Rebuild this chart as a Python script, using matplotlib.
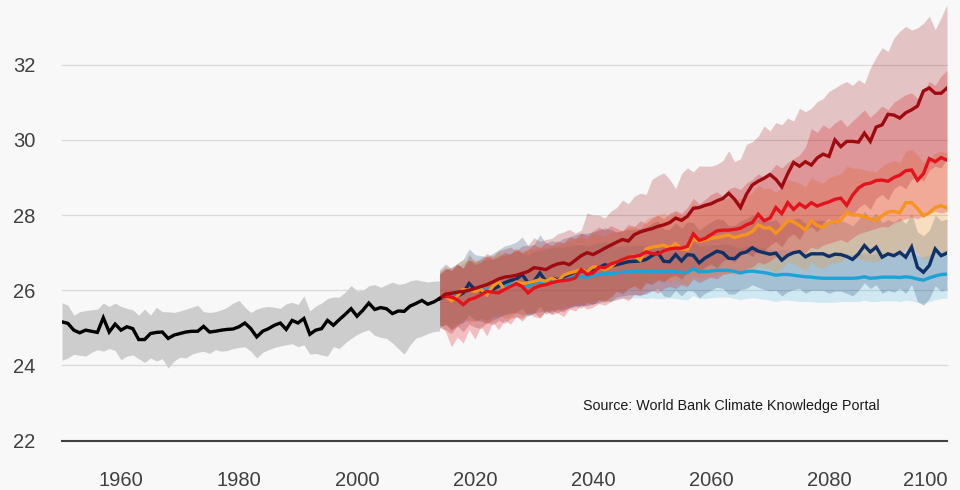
import matplotlib
matplotlib.use("Agg")
import matplotlib.pyplot as plt

# ---------------- data ----------------
hist_years = list(range(1950, 2015))
hist_median = [
    25.16, 25.12, 24.94, 24.87, 24.94, 24.91, 24.88, 25.27, 24.89, 25.10,
    24.94, 25.03, 24.98, 24.69, 24.69, 24.85, 24.88, 24.89, 24.72, 24.81,
    24.85, 24.89, 24.91, 24.91, 25.04, 24.89, 24.91, 24.94, 24.96, 24.97,
    25.03, 25.13, 24.98, 24.76, 24.91, 24.98, 25.07, 25.13, 24.96, 25.20,
    25.13, 25.25, 24.83, 24.94, 24.98, 25.20, 25.07, 25.22, 25.36, 25.51,
    25.31, 25.47, 25.66, 25.49, 25.54, 25.51, 25.38, 25.45, 25.44, 25.58,
    25.65, 25.73, 25.63, 25.69, 25.78]
hist_upper = [
    25.67, 25.60, 25.34, 25.43, 25.46, 25.48, 25.50, 25.66, 25.57, 25.66,
    25.57, 25.52, 25.48, 25.34, 25.50, 25.34, 25.55, 25.43, 25.43, 25.41,
    25.45, 25.50, 25.55, 25.60, 25.43, 25.41, 25.43, 25.48, 25.55, 25.66,
    25.73, 25.55, 25.41, 25.50, 25.55, 25.57, 25.55, 25.52, 25.64, 25.68,
    25.62, 25.85, 25.45, 25.58, 25.66, 25.78, 25.82, 25.82, 25.95, 26.13,
    25.98, 26.00, 26.12, 26.15, 26.08, 26.15, 26.22, 26.16, 26.18, 26.25,
    26.28, 26.25, 26.22, 26.24, 26.25]
hist_lower = [
    24.14, 24.20, 24.30, 24.27, 24.25, 24.35, 24.42, 24.38, 24.45, 24.40,
    24.15, 24.25, 24.28, 24.18, 24.08, 24.20, 24.12, 24.18, 23.93, 24.12,
    24.22, 24.20, 24.30, 24.35, 24.38, 24.32, 24.42, 24.38, 24.40, 24.45,
    24.48, 24.50, 24.38, 24.20, 24.35, 24.42, 24.48, 24.52, 24.55, 24.58,
    24.50, 24.55, 24.30, 24.32, 24.28, 24.25, 24.50, 24.45, 24.60, 24.72,
    24.82, 24.90, 24.95, 24.80, 24.75, 24.72, 24.60, 24.45, 24.30, 24.55,
    24.73, 24.78, 24.85, 24.90, 24.92]

proj_years = list(range(2014, 2101))

ssp119_median = [
    25.78, 25.82, 25.80, 25.90, 25.95, 26.00, 25.98, 26.02, 26.00, 26.05,
    26.10, 26.12, 26.16, 26.20, 26.14, 26.10, 26.20, 26.22, 26.24, 26.26,
    26.28, 26.30, 26.33, 26.34, 26.37, 26.34, 26.40, 26.42, 26.44, 26.44,
    26.46, 26.48, 26.49, 26.50, 26.51, 26.50, 26.51, 26.50, 26.50, 26.51,
    26.50, 26.48, 26.47, 26.58, 26.49, 26.50, 26.51, 26.53, 26.53, 26.53,
    26.50, 26.46, 26.50, 26.51, 26.49, 26.47, 26.44, 26.40, 26.42, 26.42,
    26.40, 26.38, 26.36, 26.35, 26.33, 26.32, 26.32, 26.32, 26.32, 26.32,
    26.32, 26.33, 26.36, 26.32, 26.33, 26.35, 26.35, 26.35, 26.34, 26.36,
    26.34, 26.30, 26.27, 26.33, 26.38, 26.42, 26.43]
ssp119_upper = [
    26.50, 26.58, 26.55, 26.65, 26.72, 26.80, 26.75, 26.82, 26.80, 26.86,
    26.92, 26.95, 27.00, 27.04, 26.98, 26.94, 27.04, 27.06, 27.10, 27.12,
    27.14, 27.16, 27.18, 27.20, 27.22, 27.18, 27.24, 27.26, 27.28, 27.26,
    27.15, 27.18, 27.18, 27.20, 27.20, 27.18, 27.22, 27.18, 27.20, 27.20,
    27.18, 27.15, 27.15, 27.28, 27.18, 27.20, 27.20, 27.22, 27.22, 27.22,
    27.18, 27.12, 27.18, 27.20, 27.15, 27.12, 27.10, 27.05, 27.08, 27.08,
    27.05, 27.02, 27.00, 27.00, 26.98, 26.96, 26.96, 26.96, 26.95, 26.96,
    26.95, 26.96, 27.00, 26.95, 26.96, 26.98, 26.98, 26.98, 26.96, 27.00,
    26.98, 26.92, 26.88, 26.95, 27.02, 27.05, 27.08]
ssp119_lower = [
    25.05, 25.08, 25.00, 25.12, 25.15, 25.22, 25.18, 25.25, 25.20, 25.28,
    25.30, 25.35, 25.36, 25.40, 25.35, 25.32, 25.40, 25.42, 25.46, 25.48,
    25.50, 25.52, 25.55, 25.56, 25.60, 25.58, 25.64, 25.66, 25.70, 25.70,
    25.76, 25.78, 25.78, 25.80, 25.80, 25.78, 25.80, 25.78, 25.78, 25.80,
    25.78, 25.76, 25.75, 25.86, 25.78, 25.78, 25.80, 25.82, 25.82, 25.82,
    25.78, 25.75, 25.78, 25.80, 25.78, 25.76, 25.74, 25.70, 25.74, 25.74,
    25.72, 25.70, 25.70, 25.70, 25.68, 25.68, 25.68, 25.68, 25.70, 25.70,
    25.70, 25.70, 25.74, 25.70, 25.70, 25.72, 25.72, 25.72, 25.70, 25.74,
    25.72, 25.68, 25.65, 25.70, 25.75, 25.78, 25.80]

ssp126_median = [
    25.78, 25.88, 25.75, 25.84, 25.93, 26.18, 26.02, 25.98, 25.93, 26.02,
    26.11, 26.20, 26.26, 26.30, 26.42, 26.20, 26.24, 26.46, 26.24, 26.33,
    26.28, 26.36, 26.42, 26.48, 26.51, 26.52, 26.55, 26.60, 26.68, 26.64,
    26.68, 26.72, 26.76, 26.77, 26.78, 26.82, 26.92, 27.00, 26.77, 26.76,
    26.95, 26.78, 26.95, 26.93, 26.73, 26.86, 26.95, 27.04, 27.00, 26.85,
    26.84, 26.98, 27.02, 27.13, 27.04, 27.00, 26.96, 26.99, 26.80, 26.93,
    27.00, 27.03, 26.89, 26.97, 26.97, 26.97, 26.90, 26.96, 26.95, 26.90,
    26.82, 26.97, 27.19, 27.02, 27.15, 26.88, 26.97, 26.92, 27.01, 26.88,
    27.15, 26.61, 26.48, 26.66, 27.10, 26.92, 26.99]
ssp126_upper = [
    26.55, 26.70, 26.58, 26.72, 26.82, 27.10, 26.95, 26.92, 26.88, 26.98,
    27.08, 27.18, 27.22, 27.28, 27.42, 27.18, 27.22, 27.48, 27.25, 27.32,
    27.28, 27.38, 27.42, 27.48, 27.52, 27.52, 27.55, 27.60, 27.66, 27.62,
    27.55, 27.58, 27.62, 27.62, 27.65, 27.68, 27.78, 27.85, 27.62, 27.62,
    27.80, 27.65, 27.82, 27.80, 27.60, 27.72, 27.82, 27.90, 27.88, 27.72,
    27.72, 27.85, 27.90, 28.00, 27.92, 27.88, 27.85, 27.88, 27.70, 27.82,
    27.90, 27.92, 27.78, 27.86, 27.86, 27.86, 27.80, 27.85, 27.85, 27.80,
    27.72, 27.88, 28.10, 27.92, 28.05, 27.80, 27.88, 27.82, 27.92, 27.78,
    28.05, 27.55, 27.45, 27.60, 28.00, 27.85, 27.90]
ssp126_lower = [
    25.00, 25.10, 24.95, 25.05, 25.15, 25.35, 25.20, 25.18, 25.12, 25.20,
    25.28, 25.36, 25.40, 25.42, 25.52, 25.32, 25.38, 25.58, 25.36, 25.46,
    25.40, 25.48, 25.52, 25.58, 25.60, 25.60, 25.64, 25.68, 25.75, 25.70,
    25.82, 25.85, 25.88, 25.88, 25.88, 25.90, 25.98, 26.05, 25.85, 25.82,
    26.00, 25.85, 26.00, 25.98, 25.80, 25.92, 26.00, 26.08, 26.05, 25.90,
    25.90, 26.02, 26.05, 26.15, 26.08, 26.02, 25.98, 26.00, 25.85, 25.96,
    26.02, 26.05, 25.92, 26.00, 26.00, 26.00, 25.92, 25.98, 25.98, 25.92,
    25.85, 26.00, 26.20, 26.05, 26.15, 25.92, 26.00, 25.95, 26.05, 25.92,
    26.15, 25.70, 25.60, 25.78, 26.12, 25.98, 26.02]

ssp245_median = [
    25.78, 25.85, 25.72, 25.84, 26.02, 26.00, 25.97, 26.02, 25.88, 26.10,
    26.24, 26.02, 26.10, 26.22, 26.18, 26.20, 26.24, 26.28, 26.24, 26.33,
    26.24, 26.40, 26.46, 26.50, 26.55, 26.50, 26.62, 26.62, 26.55, 26.62,
    26.76, 26.82, 26.88, 26.92, 26.80, 27.10, 27.15, 27.17, 27.20, 27.13,
    27.24, 27.10, 27.08, 27.38, 27.30, 27.34, 27.38, 27.40, 27.44, 27.47,
    27.40, 27.45, 27.48, 27.56, 27.74, 27.66, 27.66, 27.52, 27.67, 27.86,
    27.82, 27.72, 27.60, 27.86, 27.72, 27.68, 27.80, 27.82, 27.86, 28.08,
    28.00, 28.00, 27.95, 27.90, 27.86, 27.98, 28.08, 28.10, 28.06, 28.33,
    28.33, 28.17, 27.98, 28.06, 28.20, 28.25, 28.19]
ssp245_upper = [
    26.50, 26.65, 26.55, 26.70, 26.82, 26.78, 26.82, 26.75, 26.92, 26.88,
    27.02, 26.90, 26.98, 27.08, 27.02, 27.12, 27.08, 27.18, 27.12, 27.22,
    27.18, 27.28, 27.32, 27.38, 27.42, 27.35, 27.52, 27.48, 27.42, 27.55,
    27.55, 27.60, 27.68, 27.70, 27.60, 27.90, 27.95, 28.00, 28.05, 27.95,
    28.10, 27.98, 28.00, 28.30, 28.20, 28.25, 28.30, 28.35, 28.40, 28.45,
    28.40, 28.45, 28.50, 28.60, 28.80, 28.70, 28.72, 28.60, 28.75, 28.95,
    28.90, 28.85, 28.75, 29.00, 28.90, 28.85, 29.00, 29.05, 29.10, 29.30,
    29.25, 29.25, 29.20, 29.18, 29.15, 29.30, 29.40, 29.45, 29.40, 29.70,
    29.75, 29.60, 29.40, 29.50, 29.65, 29.70, 29.65]
ssp245_lower = [
    25.05, 25.10, 24.95, 25.08, 25.25, 25.15, 25.20, 25.25, 25.10, 25.30,
    25.40, 25.25, 25.30, 25.40, 25.35, 25.38, 25.42, 25.45, 25.40, 25.50,
    25.42, 25.55, 25.60, 25.62, 25.68, 25.62, 25.72, 25.75, 25.68, 25.75,
    25.95, 26.00, 26.05, 26.08, 25.98, 26.20, 26.22, 26.25, 26.28, 26.20,
    26.30, 26.18, 26.15, 26.40, 26.32, 26.35, 26.38, 26.40, 26.44, 26.46,
    26.40, 26.44, 26.48, 26.52, 26.65, 26.58, 26.58, 26.45, 26.58, 26.75,
    26.70, 26.62, 26.52, 26.75, 26.62, 26.58, 26.70, 26.72, 26.75, 26.92,
    26.85, 26.85, 26.80, 26.78, 26.75, 26.85, 26.92, 26.95, 26.90, 27.12,
    27.12, 26.98, 26.82, 26.88, 27.00, 27.05, 27.00]

ssp370_median = [
    25.78, 25.84, 25.82, 25.75, 25.62, 25.75, 25.80, 25.88, 25.97, 25.95,
    25.93, 26.02, 26.10, 26.18, 26.10, 25.93, 26.06, 26.12, 26.15, 26.20,
    26.24, 26.26, 26.28, 26.33, 26.55, 26.42, 26.46, 26.62, 26.60, 26.70,
    26.75, 26.82, 26.88, 26.90, 26.93, 27.02, 26.98, 26.96, 27.05, 27.10,
    27.12, 27.12, 27.17, 27.50, 27.33, 27.38, 27.48, 27.58, 27.60, 27.60,
    27.62, 27.65, 27.74, 27.80, 28.02, 27.85, 27.92, 28.20, 28.04, 28.33,
    28.15, 28.30, 28.20, 28.33, 28.24, 28.30, 28.35, 28.42, 28.45, 28.26,
    28.53, 28.72, 28.82, 28.85, 28.92, 28.93, 28.90, 29.00, 29.06, 29.18,
    29.20, 28.93, 29.10, 29.50, 29.42, 29.53, 29.46]
ssp370_upper = [
    26.45, 26.60, 26.52, 26.70, 26.58, 26.82, 26.68, 26.75, 26.92, 26.82,
    26.88, 27.02, 26.95, 27.12, 27.00, 27.08, 27.22, 27.12, 27.28, 27.18,
    27.32, 27.25, 27.42, 27.38, 27.52, 27.45, 27.58, 27.68, 27.60, 27.72,
    27.65, 27.58, 27.75, 27.70, 27.85, 27.78, 27.92, 28.00, 27.90, 28.05,
    28.12, 28.05, 28.20, 28.45, 28.30, 28.42, 28.55, 28.62, 28.50, 28.70,
    28.75, 28.68, 28.85, 28.95, 29.10, 29.00, 29.15, 29.35, 29.25, 29.40,
    29.50, 29.60, 29.80, 30.30, 30.20, 30.40, 30.30, 30.45, 30.55, 30.35,
    30.50, 30.65, 30.80, 30.60, 30.75, 30.90, 30.80, 31.00, 31.10, 31.20,
    31.25, 31.10, 31.30, 31.55, 31.45, 31.70, 31.85]
ssp370_lower = [
    25.10, 24.90, 24.50, 24.75, 24.60, 24.95, 24.70, 25.05, 24.78, 25.15,
    24.95, 25.20, 25.10, 25.30, 25.25, 25.40, 25.30, 25.26, 25.45, 25.35,
    25.40, 25.30, 25.50, 25.45, 25.60, 25.50, 25.55, 25.65, 25.60, 25.70,
    25.75, 25.80, 25.72, 25.90, 25.85, 25.95, 26.00, 25.92, 26.05, 26.10,
    26.05, 26.15, 26.10, 26.30, 26.20, 26.28, 26.35, 26.30, 26.42, 26.45,
    26.50, 26.45, 26.58, 26.62, 26.75, 26.70, 26.78, 26.90, 26.85, 26.95,
    27.00, 27.05, 27.00, 27.15, 27.10, 27.20, 27.25, 27.30, 27.35, 27.28,
    27.40, 27.50, 27.55, 27.60, 27.65, 27.70, 27.68, 27.80, 27.85, 27.90,
    27.95, 27.90, 28.00, 28.05, 28.10, 28.05, 28.10]

ssp585_median = [
    25.78, 25.90, 25.92, 25.95, 25.97, 26.00, 26.05, 26.10, 26.15, 26.22,
    26.30, 26.35, 26.37, 26.40, 26.45, 26.50, 26.60, 26.58, 26.55, 26.64,
    26.70, 26.73, 26.68, 26.80, 26.92, 27.00, 26.95, 27.03, 27.12, 27.20,
    27.28, 27.35, 27.31, 27.48, 27.55, 27.60, 27.64, 27.70, 27.74, 27.80,
    27.92, 27.86, 27.97, 28.18, 28.20, 28.26, 28.30, 28.38, 28.44, 28.58,
    28.42, 28.20, 28.55, 28.80, 28.90, 28.98, 29.08, 28.95, 28.75, 29.10,
    29.40, 29.30, 29.42, 29.33, 29.52, 29.62, 29.56, 30.00, 29.82, 29.96,
    29.96, 29.94, 30.18, 29.96, 30.34, 30.40, 30.68, 30.66, 30.58, 30.72,
    30.80, 30.90, 31.30, 31.38, 31.24, 31.24, 31.38]
ssp585_upper = [
    26.42, 26.55, 26.62, 26.70, 26.60, 26.95, 26.75, 26.85, 26.98, 26.90,
    27.05, 27.10, 27.15, 27.05, 27.18, 27.20, 27.40, 27.30, 27.35, 27.38,
    27.50, 27.55, 27.62, 27.52, 27.60, 28.06, 28.00, 28.00, 27.92, 28.10,
    28.20, 28.40, 28.30, 28.50, 28.58, 28.55, 28.95, 29.05, 29.12, 28.95,
    28.70, 29.10, 29.26, 29.15, 29.31, 29.30, 29.30, 29.35, 29.45, 29.71,
    29.42, 29.50, 29.88, 29.95, 30.10, 30.37, 30.24, 30.46, 30.40, 30.58,
    30.50, 30.84, 30.75, 30.84, 31.02, 31.10, 31.29, 31.38, 31.48, 31.55,
    31.45, 31.60, 31.50, 31.91, 32.20, 32.45, 32.35, 32.71, 32.89, 33.02,
    32.92, 32.98, 33.10, 33.29, 32.93, 33.25, 33.60]
ssp585_lower = [
    25.00, 24.95, 24.85, 25.05, 24.90, 25.10, 25.02, 24.98, 25.15, 25.08,
    25.20, 25.12, 25.25, 25.30, 25.18, 25.35, 25.40, 25.28, 25.45, 25.38,
    25.50, 25.42, 25.55, 25.60, 25.52, 25.68, 25.62, 25.75, 25.70, 25.82,
    25.98, 25.90, 26.05, 26.12, 26.02, 26.20, 26.15, 26.28, 26.22, 26.35,
    26.40, 26.30, 26.48, 26.55, 26.45, 26.62, 26.70, 26.60, 26.78, 26.85,
    26.75, 26.92, 27.00, 26.90, 27.10, 27.05, 27.20, 27.30, 27.15, 27.40,
    27.50, 27.35, 27.62, 27.70, 27.55, 27.80, 27.90, 27.75, 28.00, 28.10,
    28.00, 28.20, 28.30, 28.15, 28.45, 28.55, 28.40, 28.70, 28.80, 28.70,
    28.95, 29.05, 28.90, 29.20, 29.30, 29.25, 29.50]

y_ticks = [22, 24, 26, 28, 30, 32]
x_ticks = [1960, 1980, 2000, 2020, 2040, 2060, 2080, 2100]
source_text = "Source: World Bank Climate Knowledge Portal"

# ---------------- styling ----------------
BG = "#f8f8f8"
scenarios = [
    (ssp119_median, ssp119_lower, ssp119_upper, "#1ba3d8", 0.18),
    (ssp126_median, ssp126_lower, ssp126_upper, "#0e3166", 0.22),
    (ssp245_median, ssp245_lower, ssp245_upper, "#f7941d", 0.25),
    (ssp370_median, ssp370_lower, ssp370_upper, "#e3121b", 0.25),
    (ssp585_median, ssp585_lower, ssp585_upper, "#9e0a10", 0.22),
]

plt.rcParams['font.family'] = ['Liberation Sans', 'DejaVu Sans']

fig = plt.figure(figsize=(9.6, 4.9), dpi=100, facecolor=BG)
ax = fig.add_axes([62/960, 49.3/490, (947-62)/960, 440.7/490])
ax.set_facecolor(BG)

ax.fill_between(hist_years, hist_lower, hist_upper, color="#cdcdcd", lw=0, zorder=2)
ax.plot(hist_years, hist_median, color="black", lw=2.4, zorder=6, solid_joinstyle='miter')

for med, lo, up, col, a in scenarios:
    ax.fill_between(proj_years, lo, up, color=col, alpha=a, lw=0, zorder=3)
line_order = [0, 1, 2, 4, 3]
for i in line_order:
    med, lo, up, col, a = scenarios[i]
    ax.plot(proj_years, med, color=col, lw=2.4, zorder=5 + i * 0.1, solid_joinstyle='miter')

ax.set_xlim(1950, 2100)
ax.set_ylim(22, 33.72)
ax.set_yticks(y_ticks)
ax.set_xticks(x_ticks)
ax.set_yticklabels([str(v) for v in y_ticks])
ax.set_xticklabels([str(v) for v in x_ticks])
ax.tick_params(axis='both', length=0, labelsize=14.5, labelcolor="#404040")
ax.tick_params(axis='y', pad=19)
ax.tick_params(axis='x', pad=22)
xl = ax.get_xticklabels()
xl[-1].set_horizontalalignment('right')

for v in y_ticks[1:]:
    ax.axhline(v, color="#d9d9d9", lw=0.9, zorder=1, clip_on=False)
for s in ["top", "right", "left"]:
    ax.spines[s].set_visible(False)
ax.spines["bottom"].set_color("#404040")
ax.spines["bottom"].set_linewidth(1.5)
ax.spines["bottom"].set_zorder(7)

ax.text(2038.3, 22.92, source_text, fontsize=10.3, color="#1a1a1a",
        ha="left", va="center", zorder=8)

fig.savefig("out.png", dpi=100, facecolor=BG)
